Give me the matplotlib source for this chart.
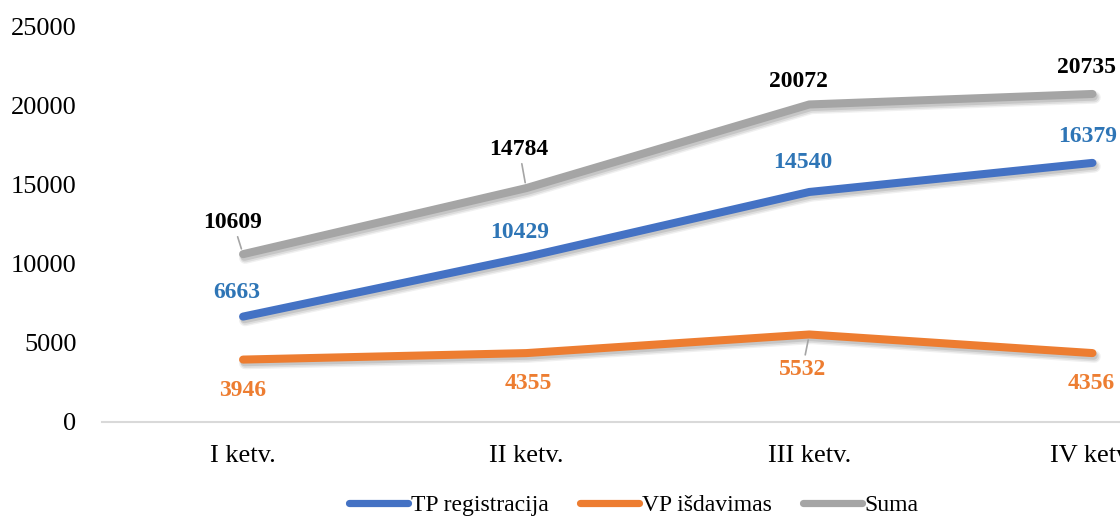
import matplotlib
matplotlib.use("Agg")
import matplotlib.pyplot as plt
import matplotlib.patheffects as pe

categories = ["I ketv.", "II ketv.", "III ketv.", "IV ketv."]
tp_registracija = [6663, 10429, 14540, 16379]
vp_isdavimas = [3946, 4355, 5532, 4356]
suma = [10609, 14784, 20072, 20735]
series_names = ["TP registracija", "VP išdavimas", "Suma"]

# layout / style (not data)
line_colors = ["#4472C4", "#ED7D31", "#A5A5A5"]
label_colors = ["#2E75B6", "#ED7D31", "#000000"]
label_offsets = [
    [(-6, 24), (-7, 25), (-7, 29), (-5, 26)],
    [(0, -31), (2, -30), (-7, -35), (-1, -30)],
    [(-10, 32), (-7, 39), (-11, 23), (-6, 26)],
]
leaders = [
    [False, False, False, False],
    [False, False, True, False],
    [True, True, False, False],
]

plt.rcParams['font.family'] = ['Liberation Serif', 'DejaVu Serif']

fig = plt.figure(figsize=(11.2, 5.18), dpi=100)
W, H = 1120, 518
ax = fig.add_axes([101.5 / W, (H - 422) / H, (1234 - 101.5) / W, (422 - 26.5) / H])

shadow = [pe.SimpleLineShadow(offset=(1.5, -2.5), shadow_color='black', alpha=0.06, linewidth=9),
          pe.SimpleLineShadow(offset=(1.5, -2.5), shadow_color='black', alpha=0.08, linewidth=7),
          pe.SimpleLineShadow(offset=(1, -2), shadow_color='black', alpha=0.10, linewidth=5.6),
          pe.Normal()]

x = list(range(len(categories)))
all_series = [tp_registracija, vp_isdavimas, suma]
handles = []
for vals, name, col in zip(all_series, series_names, line_colors):
    ln, = ax.plot(x, vals, color=col, lw=5.8, solid_capstyle='round',
                  solid_joinstyle='round', label=name, zorder=3,
                  path_effects=shadow)
    handles.append(ln)

for vals, lcol, offs, leads in zip(all_series, label_colors, label_offsets, leaders):
    for xi, v, off, lead in zip(x, vals, offs, leads):
        kw = {}
        if lead:
            kw['arrowprops'] = dict(arrowstyle='-', color='#A5A5A5', lw=1.2,
                                    shrinkA=1, shrinkB=4)
        ax.annotate(str(v), (xi, v), xytext=off, textcoords='offset pixels',
                    ha='center', va='center', fontsize=17, fontweight='bold',
                    color=lcol, zorder=5, **kw)

ax.set_xlim(-0.5, 3.5)
ax.set_ylim(0, 25000)
ax.set_yticks(range(0, 25001, 5000))
ax.set_xticks(x)
ax.set_xticklabels(categories)
for s in ['top', 'right', 'left']:
    ax.spines[s].set_visible(False)
ax.spines['bottom'].set_color('#D9D9D9')
ax.spines['bottom'].set_linewidth(1.5)
ax.tick_params(axis='y', length=0, pad=18, labelsize=19)
ax.tick_params(axis='x', length=0, pad=16.5, labelsize=19)

leg = fig.legend(handles=handles, labels=series_names, loc='center',
                 bbox_to_anchor=(634 / W, 1 - 505 / H), ncol=3, frameon=False,
                 fontsize=17, handlelength=2.5, handletextpad=0.1,
                 columnspacing=1.35)
for h in leg.get_lines():
    h.set_linewidth(5.2)
    h.set_solid_capstyle('round')
    h.set_path_effects([])

fig.savefig("out.png", dpi=100)
